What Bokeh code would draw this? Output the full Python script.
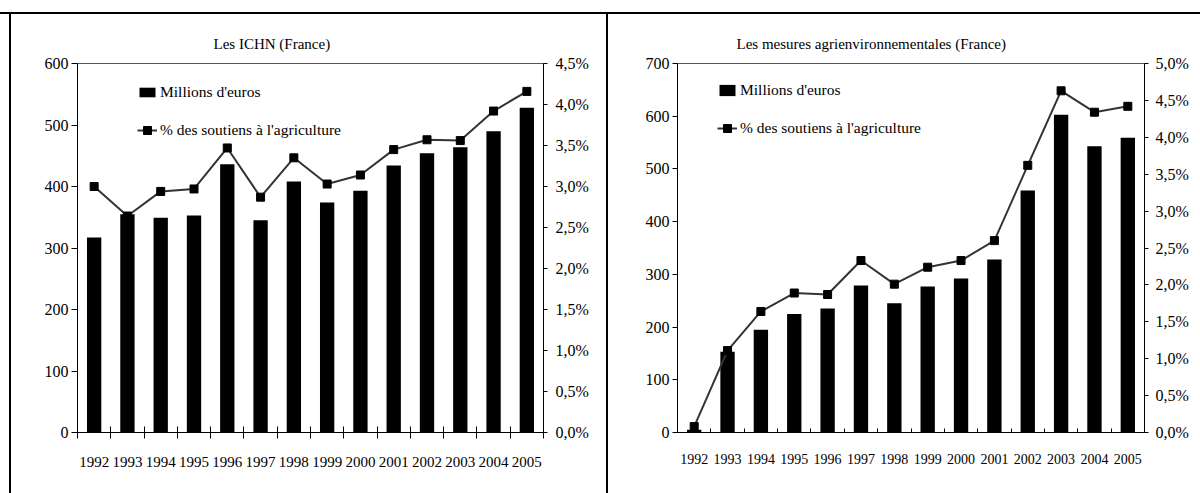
from bokeh.plotting import figure
from bokeh.models import (Range1d, LinearAxis, FixedTicker, CustomJSTickFormatter,
                          Legend, LegendItem)
from bokeh.layouts import row
from bokeh.embed import file_html
from bokeh.resources import INLINE

# ---------------- data ----------------
years = ["1992", "1993", "1994", "1995", "1996", "1997", "1998",
         "1999", "2000", "2001", "2002", "2003", "2004", "2005"]

ichn_title = "Les ICHN (France)"
ichn_meur = [317, 355, 349, 353, 436, 345, 408, 374, 393, 434, 454, 464, 490, 528]
ichn_pct = [3.00, 2.64, 2.94, 2.97, 3.47, 2.87, 3.35, 3.03, 3.14, 3.45, 3.57, 3.56, 3.92, 4.16]

mae_title = "Les mesures agrienvironnementales (France)"
mae_meur = [5, 153, 195, 225, 235, 279, 245, 277, 292, 328, 459, 603, 543, 559]
mae_pct = [0.08, 1.11, 1.64, 1.89, 1.87, 2.33, 2.01, 2.24, 2.33, 2.60, 3.62, 4.63, 4.34, 4.42]

label_bars = "Millions d'euros"
label_line = "% des soutiens à l'agriculture"

ichn_left_ticks = [0, 100, 200, 300, 400, 500, 600]
ichn_right_ticks = [0.0, 0.5, 1.0, 1.5, 2.0, 2.5, 3.0, 3.5, 4.0, 4.5]
mae_left_ticks = [0, 100, 200, 300, 400, 500, 600, 700]
mae_right_ticks = [0.0, 0.5, 1.0, 1.5, 2.0, 2.5, 3.0, 3.5, 4.0, 4.5, 5.0]

FONT = "Liberation Serif, Times New Roman, Nimbus Roman, DejaVu Serif, serif"


def style_legend(lg, glyph_h):
    lg.glyph_width = 20
    lg.glyph_height = glyph_h
    lg.label_height = 20
    lg.padding = 0
    lg.margin = 0
    lg.label_standoff = 3
    lg.border_line_color = None
    lg.background_fill_alpha = 0
    lg.label_text_font = FONT
    lg.label_text_font_size = "15.5px"
    lg.label_text_color = "black"
    lg.label_text_baseline = "middle"


def make_panel(title, meur, pct, lticks, rticks, width, height, mb, title_offset,
               leg1_loc, leg2_loc, glyph_h, ytick_out, ystand, rtick_out, rstand,
               xtick_in, xtick_out, xstand, xfont, bg_css):
    n = len(years)
    xs = list(range(n))
    p = figure(width=width, height=height, output_backend="svg", toolbar_location=None,
               x_range=Range1d(-0.5, n - 0.5), y_range=Range1d(lticks[0], lticks[-1]),
               min_border_left=mb[0], min_border_right=mb[1],
               min_border_top=mb[2], min_border_bottom=mb[3],
               title=title)
    p.extra_y_ranges = {"pct": Range1d(rticks[0], rticks[-1])}
    p.border_fill_color = None
    p.background_fill_color = "white"
    p.outline_line_color = "#555555"
    p.outline_line_width = 1
    p.xgrid.visible = False
    p.ygrid.visible = False
    p.styles = {"background": bg_css}

    p.title.text_font = FONT
    p.title.text_font_size = "15px"
    p.title.text_font_style = "normal"
    p.title.text_color = "black"
    p.title.align = "left"
    p.title.offset = title_offset
    p.title.standoff = 24

    bars = p.vbar(x=xs, top=meur, width=0.43, fill_color="black", line_color=None)
    line = p.line(x=xs, y=pct, y_range_name="pct", line_color="#333333", line_width=2)
    pts = p.scatter(x=xs, y=pct, y_range_name="pct", marker="square", size=8,
                    fill_color="black", line_color="black")

    # x axis: labels at centres, ticks at category boundaries
    xa = p.xaxis[0]
    xa.ticker = FixedTicker(ticks=xs, minor_ticks=[i - 0.5 for i in range(n + 1)])
    xa.major_label_overrides = {i: y for i, y in enumerate(years)}
    xa.major_tick_line_color = None
    xa.major_tick_in = 0
    xa.major_tick_out = 0
    xa.minor_tick_line_color = "black"
    xa.minor_tick_in = xtick_in
    xa.minor_tick_out = xtick_out
    xa.major_label_standoff = xstand
    xa.major_label_text_font = FONT
    xa.major_label_text_font_size = xfont
    xa.major_label_text_color = "black"
    xa.axis_line_color = "black"

    ya = p.yaxis[0]
    ya.ticker = FixedTicker(ticks=lticks, minor_ticks=[])
    ya.major_tick_in = 0
    ya.major_tick_out = ytick_out
    ya.major_label_standoff = ystand
    ya.major_label_text_font = FONT
    ya.major_label_text_font_size = "16px"
    ya.major_label_text_color = "black"
    ya.axis_line_color = "black"
    ya.minor_tick_line_color = None

    ra = LinearAxis(y_range_name="pct",
                    ticker=FixedTicker(ticks=rticks, minor_ticks=[]),
                    formatter=CustomJSTickFormatter(
                        code="return tick.toFixed(1).replace('.', ',') + '%';"))
    ra.major_tick_in = 0
    ra.major_tick_out = rtick_out
    ra.major_label_standoff = rstand
    ra.major_label_text_font = FONT
    ra.major_label_text_font_size = "16px"
    ra.major_label_text_color = "black"
    ra.axis_line_color = "black"
    ra.minor_tick_line_color = None
    p.add_layout(ra, "right")

    lg1 = Legend(items=[LegendItem(label=label_bars, renderers=[bars])], location=leg1_loc)
    style_legend(lg1, glyph_h)
    lg2 = Legend(items=[LegendItem(label=label_line, renderers=[line, pts])], location=leg2_loc)
    style_legend(lg2, 20)
    p.add_layout(lg1, "center")
    p.add_layout(lg2, "center")
    return p


bg_left = ("linear-gradient(#000,#000) 0px 12px / 100% 2px no-repeat, "
           "linear-gradient(#000,#000) 9px 12px / 2px 100% no-repeat")
bg_right = ("linear-gradient(#000,#000) 0px 12px / 100% 2px no-repeat, "
            "linear-gradient(#000,#000) 0px 12px / 2px 100% no-repeat")

p1 = make_panel(ichn_title, ichn_meur, ichn_pct, ichn_left_ticks, ichn_right_ticks,
                606, 493, (77, 63, 63, 61), 136, (60, 330), (60, 292), 12,
                6, 3, 4, 8, 6, 6, 18, "15px", bg_left)
p2 = make_panel(mae_title, mae_meur, mae_pct, mae_left_ticks, mae_right_ticks,
                594, 493, (71, 56, 63, 61), 59, (40, 332), (40, 294), 14,
                5, 3, 4, 7, 4, 0, 21, "14px", bg_right)

layout = row(p1, p2, spacing=0)
open("out.html", "w").write(file_html(layout, INLINE))
